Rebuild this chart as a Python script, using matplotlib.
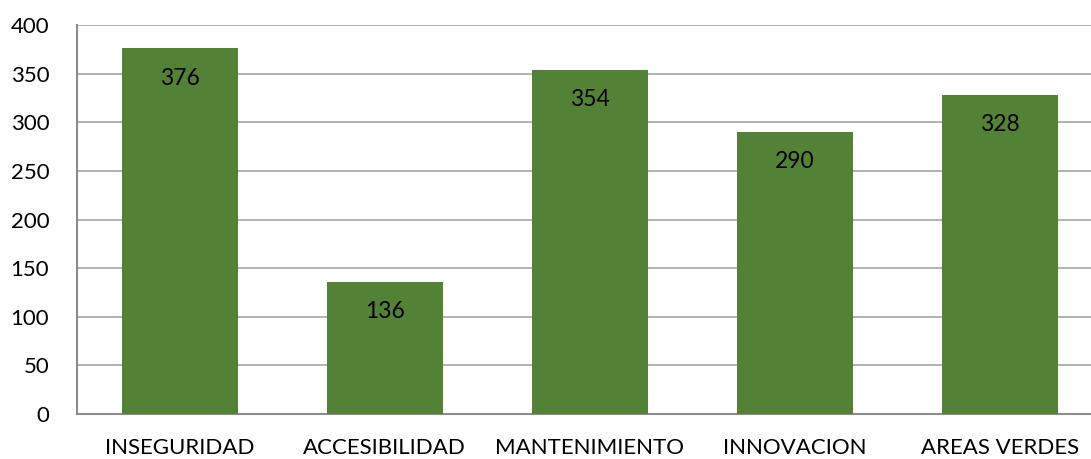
import matplotlib
matplotlib.use("Agg")
import matplotlib.pyplot as plt

categories = ["INSEGURIDAD", "ACCESIBILIDAD", "MANTENIMIENTO", "INNOVACION", "AREAS VERDES"]
values = [376, 136, 354, 290, 328]
yticks = [0, 50, 100, 150, 200, 250, 300, 350, 400]

plt.rcParams['font.family'] = ['Lato', 'DejaVu Sans']

fig = plt.figure(figsize=(10.91, 4.59), dpi=100)
ax = fig.add_axes([0.0706, 0.098, 0.9294, 0.8475])

x = range(len(categories))
bars = ax.bar(x, values, width=0.566, color="#538135", zorder=3)

for xi, v in zip(x, values):
    ax.annotate(str(v), (xi, v), xytext=(0, -14), textcoords="offset points",
                ha="center", va="top", fontsize=16.5, color="black", zorder=4)

ax.set_xlim(-0.5, 4.444)
ax.set_ylim(0, 400)
ax.set_yticks(yticks)
ax.set_xticks(list(x))
ax.set_xticklabels(categories)
ax.tick_params(axis="both", length=0, labelsize=16, colors="black")
ax.tick_params(axis="x", pad=17)
ax.tick_params(axis="y", pad=20)
ax.grid(axis="y", color="#a6a6a6", linewidth=1.2, zorder=0)

for side in ["top", "right"]:
    ax.spines[side].set_visible(False)
for side in ["left", "bottom"]:
    ax.spines[side].set_color("#8c8c8c")
    ax.spines[side].set_linewidth(1.5)

fig.savefig("out.png", dpi=100)
